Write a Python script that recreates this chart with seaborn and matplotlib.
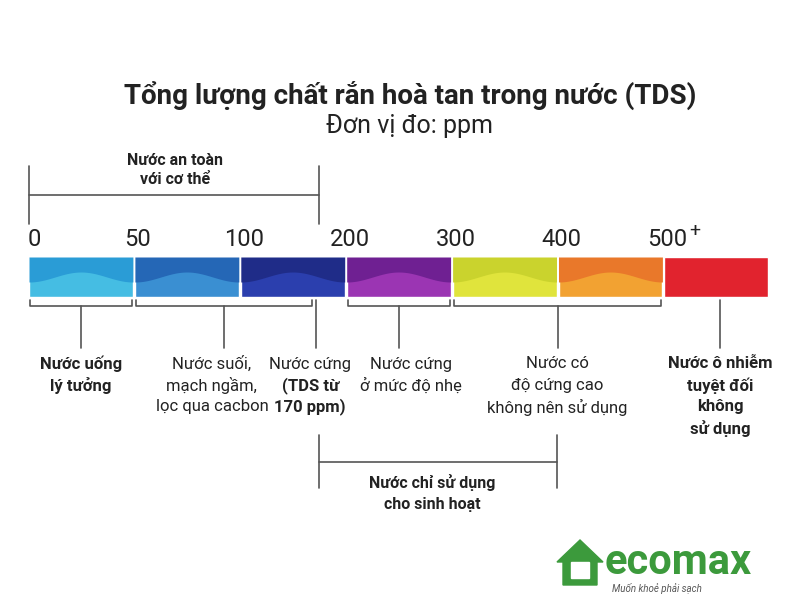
import numpy as np
import matplotlib
matplotlib.use('Agg')
import matplotlib.pyplot as plt
import seaborn as sns

# data
tick_labels = ['0', '50', '100', '200', '300', '400', '500']
light_colors = ['#45bde3', '#3a8fd2', '#2b3fae', '#9b35b3', '#e0e43c', '#f2a232', '#e1232e']
dark_colors = ['#2a9cd6', '#2567b6', '#1f2c88', '#6f2092', '#cad32d', '#e9782a', '#e1232e']
# label lines (text, bold), bracket start, bracket end, text x offset
groups = [
    ([('Nước uống', True), ('lý tưởng', True)], 0, 1, 0),
    ([('Nước suối,', False), ('mạch ngầm,', False), ('lọc qua cacbon', False)], 1, 2.7, -12),
    ([('Nước cứng', False), ('(TDS từ', True), ('170 ppm)', True)], 2.75, 2.75, -6),
    ([('Nước cứng', False), ('ở mức độ nhẹ', False)], 3, 4, 12),
    ([('Nước có', False), ('độ cứng cao', False), ('không nên sử dụng', False)], 4, 6, 0),
    ([('Nước ô nhiễm', True), ('tuyệt đối', True), ('không', True), ('sử dụng', True)], 6.5, 6.5, 0),
]

sns.set_theme(style='white', font='Roboto')
fig = plt.figure(figsize=(8, 6), dpi=100)
ax = fig.add_axes([0, 0, 1, 1])
ax.set_xlim(0, 800)
ax.set_ylim(600, 0)
ax.axis('off')

x0, w = 29, 105.9
def px(v):
    return x0 + v * w

# color blocks with wave on top half
ax.bar([px(i) for i in range(7)], 40, width=w - 2, bottom=257, align='edge', color=light_colors)
for i in range(6):
    xs = np.linspace(px(i), px(i + 1) - 2, 60)
    ys = 277 + 5 * np.cos((xs - px(i)) / (w - 2) * 2 * np.pi)
    ax.fill_between(xs, 257, ys, color=dark_colors[i], lw=0)

for i, t in enumerate(tick_labels):
    ax.text(px(i) + 3 if i else px(i) + 5, 240, t, ha='center', va='center', fontsize=17, color='#222')
ax.text(px(6) + 30, 231, '+', fontsize=14, color='#222', ha='center', va='center')

lc = '#555'
# bracket top: safe water
ax.plot([29, 29], [166, 224], color=lc, lw=1.2)
ax.plot([319, 319], [166, 224], color=lc, lw=1.2)
ax.plot([29, 319], [195, 195], color=lc, lw=1.2)
ax.text(175, 170, 'Nước an toàn\nvới cơ thể', ha='center', va='center', fontsize=11.5, fontweight='bold', color='#222', linespacing=1.3)

# lower brackets
for lines, a, b, dx in groups:
    xa, xb = px(a) + 1, px(b) - 3
    if a != b:
        ax.plot([xa, xa, xb, xb], [300, 306, 306, 300], color=lc, lw=1.2)
        xm = (xa + xb) / 2
        ax.plot([xm, xm], [306, 348], color=lc, lw=1.2)
    else:
        xm = xa - 5 if a < 6 else xa + 2
        ax.plot([xm, xm], [300, 348], color=lc, lw=1.2)
    for k, (t, bold) in enumerate(lines):
        ax.text(xm + dx, 364 + k * 21.5, t, ha='center', va='center', fontsize=12, color='#222',
                fontweight='bold' if bold else 'normal')

# bottom bracket
ax.plot([319, 319], [435, 488], color=lc, lw=1.2)
ax.plot([557, 557], [435, 488], color=lc, lw=1.2)
ax.plot([319, 557], [462, 462], color=lc, lw=1.2)
ax.text(432, 493, 'Nước chỉ sử dụng\ncho sinh hoạt', ha='center', va='center', fontsize=11.5, fontweight='bold', color='#222', linespacing=1.5)

ax.text(410, 95, 'Tổng lượng chất rắn hoà tan trong nước (TDS)', ha='center', va='center', fontsize=20, fontweight='bold', color='#222')
ax.text(410, 126, 'Đơn vị đo: ppm', ha='center', va='center', fontsize=18, color='#222')

# logo
ax.fill([557, 580, 603, 597, 597, 563, 563], [562, 540, 562, 562, 585, 585, 562], color='#3c9a3c')
ax.fill([571, 589, 589, 571], [562, 562, 578, 578], color='white')
ax.text(605, 562, 'ecomax', fontsize=30, fontweight='bold', color='#3c9a3c', va='center', ha='left')
ax.text(612, 588, 'Muốn khoẻ phải sạch', fontsize=7, color='#555', va='center', ha='left', style='italic')

fig.savefig('out.png', dpi=100)
